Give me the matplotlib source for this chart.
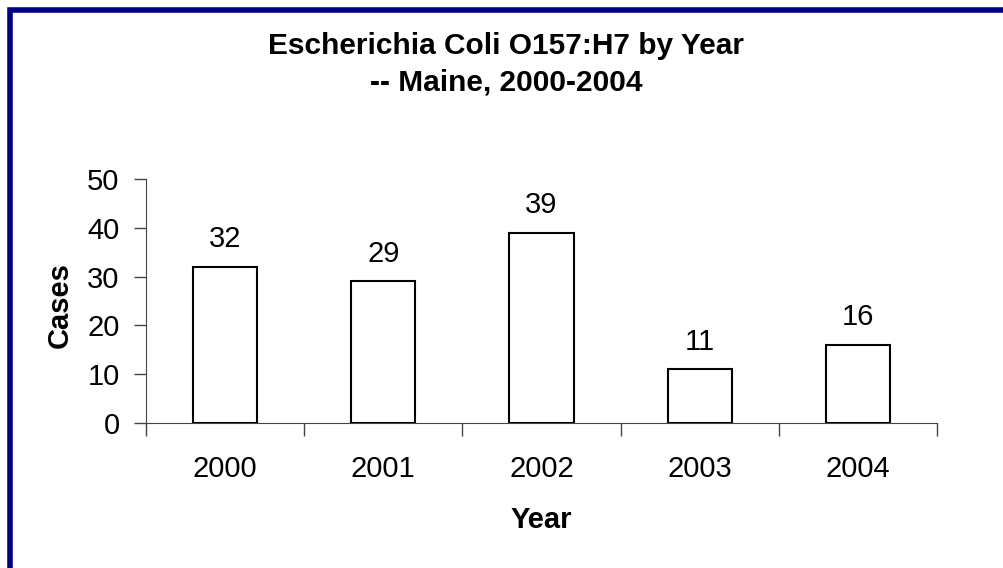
import matplotlib.pyplot as plt
from matplotlib.patches import Rectangle
import numpy as np

plt.rcParams["font.family"] = ["Liberation Sans", "DejaVu Sans"]

years = ["2000", "2001", "2002", "2003", "2004"]
cases = [32, 29, 39, 11, 16]

W, H = 1004, 568
fig = plt.figure(figsize=(W / 100, H / 100), dpi=100)

# navy frame (right edge falls outside the picture, bottom only just shows)
fig.patches.append(Rectangle((10 / W, -2.3 / H), 1.1, 1 - 7.7 / H, transform=fig.transFigure,
                             fill=False, edgecolor="#000080", linewidth=4))

ax = fig.add_axes([146 / W, 1 - 423 / H, (937 - 146) / W, (423 - 179) / H])
x = np.arange(len(years))
ax.bar(x, cases, width=0.405, color="white", edgecolor="black", linewidth=1.5)
for xi, v in zip(x, cases):
    ax.text(xi, v + 4, str(v), ha="center", va="baseline", fontsize=21)

ax.set_xlim(-0.5, len(years) - 0.5)
ax.set_ylim(0, 50)
ax.set_yticks(range(0, 51, 10))
ax.tick_params(axis="y", labelsize=21, length=9, width=1, color="#444444", pad=10)
ax.set_xticks(np.arange(-0.5, len(years), 1))
ax.set_xticklabels([])
ax.tick_params(axis="x", length=9, width=1, color="#444444")
for xi, y in zip(x, years):
    ax.annotate(y, xy=(xi, 0), xytext=(0, -54), textcoords="offset pixels",
                ha="center", va="baseline", fontsize=21)

for s in ["top", "right"]:
    ax.spines[s].set_visible(False)
ax.spines["left"].set_color("#444444")
ax.spines["bottom"].set_color("#444444")

fig.text(60 / W, 1 - 305 / H, "Cases", rotation=90, ha="center", va="center",
         fontsize=21, fontweight="bold")
fig.text(541 / W, 1 - 520 / H, "Year", ha="center", va="center",
         fontsize=21, fontweight="bold")
fig.text(506 / W, 1 - 64 / H, "Escherichia Coli O157:H7 by Year\n-- Maine, 2000-2004",
         ha="center", va="center", fontsize=21.5, fontweight="bold", linespacing=1.4)

fig.savefig("out.png", dpi=100)
